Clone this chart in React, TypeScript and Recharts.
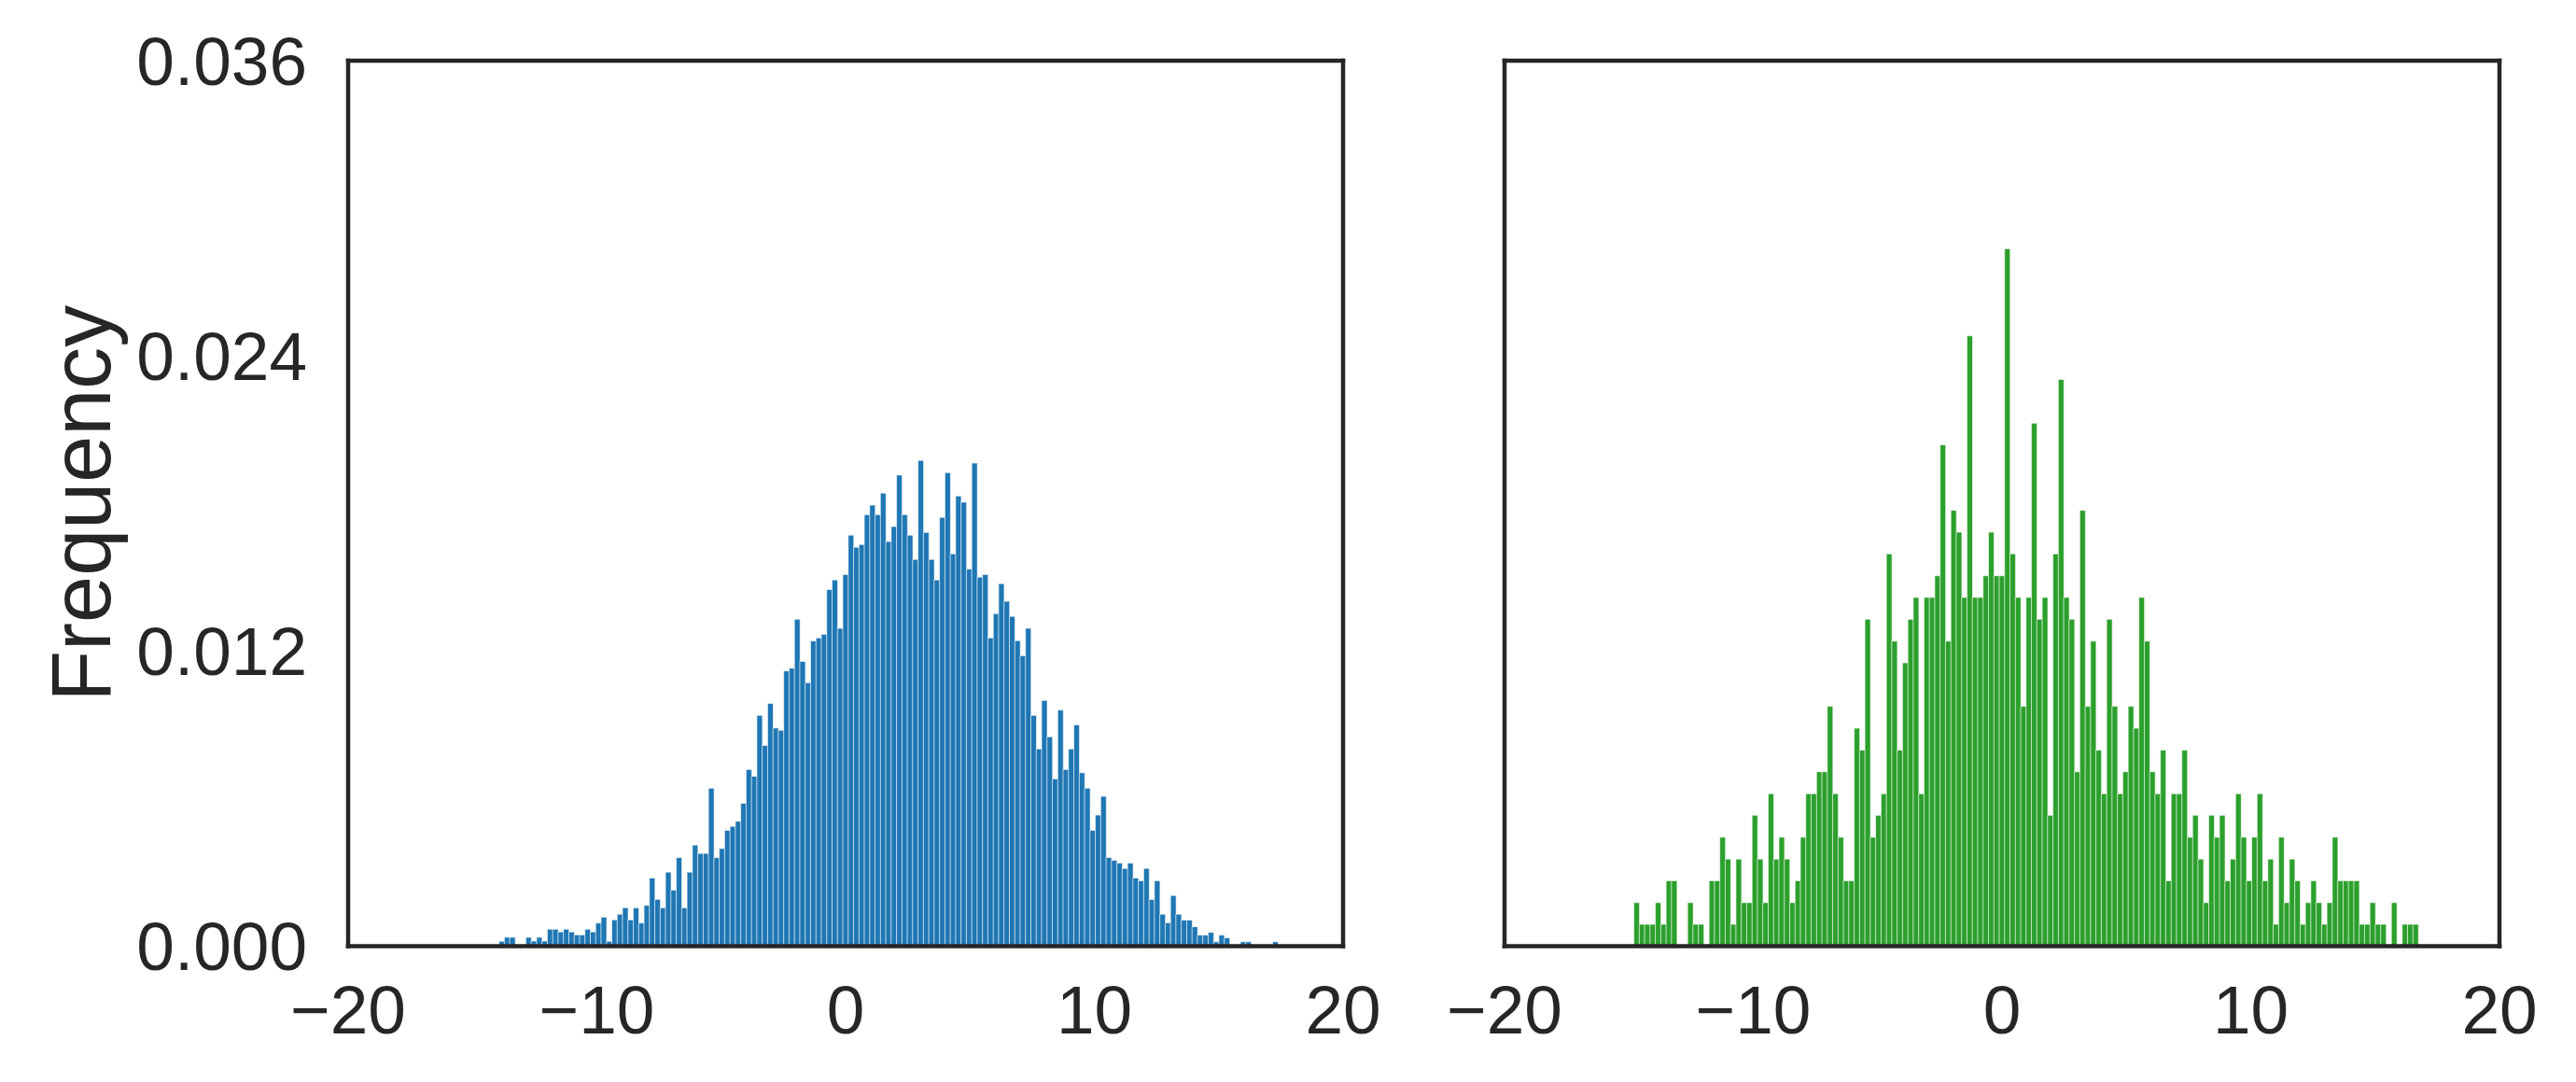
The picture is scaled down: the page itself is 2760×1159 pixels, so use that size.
import React from 'react';
import { BarChart, Bar, XAxis, YAxis, Label } from 'recharts';

const X_TICKS = [-20, -10, 0, 10, 20];
const Y_TICKS = [0, 0.012, 0.024, 0.036];
const BIN_WIDTH = 0.216;
const BLUE_BIN_START = -13.936;
const GREEN_BIN_START = -14.8;

const BLUE_FREQ = [
  0.0002, 0.00036, 0.00036, 0, 0, 0.00036, 0.00021, 0.00036, 0.00021, 0.00069,
  0.00069, 0.00058, 0.00069, 0.00058, 0.00046, 0.00046, 0.00069, 0.00058, 0.00094, 0.00118,
  0.0002, 0.00107, 0.0013, 0.00156, 0.00107, 0.00156, 0.00094, 0.00166, 0.00277, 0.0019,
  0.00156, 0.00301, 0.00228, 0.0036, 0.00156, 0.00301, 0.00411, 0.00377, 0.00377, 0.00642,
  0.0036, 0.00397, 0.00471, 0.00487, 0.00508, 0.00581, 0.00718, 0.00691, 0.00938, 0.00816,
  0.00987, 0.00887, 0.00878, 0.01119, 0.0113, 0.01329, 0.01158, 0.01071, 0.01241, 0.01253,
  0.01268, 0.0145, 0.01489, 0.01292, 0.01511, 0.01671, 0.01622, 0.01633, 0.01754, 0.01793,
  0.01754, 0.01842, 0.01645, 0.01706, 0.01915, 0.01754, 0.01671, 0.01572, 0.01975, 0.01682,
  0.01572, 0.01489, 0.01743, 0.01925, 0.01595, 0.0183, 0.01805, 0.01533, 0.01964, 0.015,
  0.01511, 0.01253, 0.01352, 0.01474, 0.01402, 0.01341, 0.01242, 0.01181, 0.01292, 0.00938,
  0.00802, 0.00999, 0.00851, 0.0068, 0.0096, 0.00718, 0.00802, 0.009, 0.00705, 0.00642,
  0.00471, 0.00533, 0.00609, 0.0036, 0.00349, 0.00338, 0.00316, 0.00338, 0.00277, 0.00266,
  0.00316, 0.0019, 0.00266, 0.0013, 0.00095, 0.00206, 0.0013, 0.00106, 0.00106, 0.00079,
  0.00045, 0.00045, 0.00056, 0.00018, 0.00045, 0.00034, 0, 0, 0.00018, 0.00018,
  0, 0, 0, 0, 0.00018,
];

const GREEN_FREQ = [
  0.00177, 0.00089, 0.00089, 0.00089, 0.00177, 0.00089, 0.00266, 0.00266, 0, 0,
  0.00177, 0.00089, 0.00089, 0, 0.00266, 0.00266, 0.00443, 0.00354, 0.00089, 0.00354,
  0.00177, 0.00177, 0.00532, 0.00354, 0.00177, 0.0062, 0.00354, 0.00443, 0.00354, 0.00177,
  0.00266, 0.00443, 0.0062, 0.0062, 0.00709, 0.00709, 0.00975, 0.0062, 0.00443, 0.00266,
  0.00266, 0.00886, 0.00797, 0.01329, 0.00443, 0.00532, 0.0062, 0.01595, 0.0124, 0.00797,
  0.01152, 0.01329, 0.01418, 0.0062, 0.01418, 0.01418, 0.01506,
  0.02038, 0.0124, 0.01772, 0.01683, 0.01418, 0.02481, 0.01418, 0.01418, 0.01506, 0.01683,
  0.01506, 0.01506, 0.02835, 0.01595, 0.01418, 0.00975, 0.01418, 0.02126, 0.01329, 0.01418,
  0.00532, 0.01595, 0.02304, 0.01418, 0.01329, 0.00709, 0.01772, 0.00975, 0.0124, 0.00797,
  0.0062, 0.01329, 0.00975, 0.0062, 0.00709, 0.00975, 0.00886, 0.01418, 0.0124, 0.00709,
  0.0062, 0.00797, 0.00266, 0.0062, 0.0062, 0.00797, 0.00443, 0.00532, 0.00354, 0.00177,
  0.00532, 0.00443, 0.00532, 0.00266, 0.00354, 0.0062, 0.00443, 0.00266, 0.00443, 0.0062,
  0.00266, 0.00354, 0.00089, 0.00443, 0.00177, 0.00354, 0.00266, 0.00089, 0.00177, 0.00266,
  0.00177, 0.00089, 0.00177, 0.00443, 0.00266, 0.00266, 0.00266, 0.00266, 0.00089, 0.00089,
  0.00177, 0.00089, 0.00089, 0, 0.00177, 0, 0.00089, 0.00089, 0.00089,
];

const toRows = (start: number, freqs: number[]) =>
  freqs.map((f, i) => ({ x: +(start + (i + 0.5) * BIN_WIDTH).toFixed(4), f }));

const blueRows = toRows(BLUE_BIN_START, BLUE_FREQ);
const greenRows = toRows(GREEN_BIN_START, GREEN_FREQ);

const FONT = '"Liberation Sans", Arial, sans-serif';
const INK = '#262626';
const tickStyle = { fontSize: 73, fill: INK, fontFamily: FONT };
const frameLine = { stroke: INK, strokeWidth: 4.5, strokeLinecap: 'square' as const };
const fmtX = (v: number) => (v < 0 ? `\u2212${Math.abs(v)}` : `${v}`);
const fmtY = (v: number) => v.toFixed(3);

function Panel({
  rows,
  color,
  width,
  leftWidth,
  rightWidth,
  showY,
}: {
  rows: { x: number; f: number }[];
  color: string;
  width: number;
  leftWidth: number;
  rightWidth: number;
  showY: boolean;
}) {
  return (
    <BarChart
      width={width}
      height={1159}
      data={rows}
      margin={{ top: 0, right: 0, bottom: 0, left: 0 }}
      barCategoryGap={0}
      barGap={0}
    >
      <XAxis
        dataKey="x"
        type="number"
        domain={[-20, 20]}
        ticks={X_TICKS}
        interval={0}
        tickFormatter={fmtX}
        height={145.5}
        tickSize={0}
        tickMargin={42}
        tickLine={false}
        axisLine={frameLine}
        tick={tickStyle}
      />
      <XAxis
        xAxisId="top"
        orientation="top"
        type="number"
        domain={[-20, 20]}
        height={65}
        tick={false}
        tickLine={false}
        axisLine={frameLine}
      />
      <YAxis
        type="number"
        domain={[0, 0.036]}
        ticks={Y_TICKS}
        interval={0}
        tickFormatter={fmtY}
        width={leftWidth}
        tickSize={0}
        tickMargin={44}
        tickLine={false}
        axisLine={frameLine}
        tick={showY ? tickStyle : false}
      >
        {showY ? (
          <Label
            value="Frequency"
            angle={-90}
            position="insideLeft"
            offset={86}
            style={{ textAnchor: 'middle', fontSize: 90, fill: INK, fontFamily: FONT }}
          />
        ) : null}
      </YAxis>
      <YAxis
        yAxisId="right"
        orientation="right"
        type="number"
        domain={[0, 0.036]}
        width={rightWidth}
        tick={false}
        tickLine={false}
        axisLine={frameLine}
      />
      <Bar dataKey="f" fill={color} stroke="#ffffff" strokeWidth={0.6} isAnimationActive={false} />
    </BarChart>
  );
}

export default function App() {
  return (
    <div
      style={{
        position: 'absolute',
        left: 0,
        top: 0,
        width: 2760,
        height: 1159,
        background: '#ffffff',
        overflow: 'hidden',
      }}
    >
      <div style={{ position: 'absolute', left: 0, top: 0 }}>
        <Panel rows={blueRows} color="#1f77b4" width={1500} leftWidth={373} rightWidth={61} showY />
      </div>
      <div style={{ position: 'absolute', left: 1480, top: 0 }}>
        <Panel rows={greenRows} color="#2ca02c" width={1280} leftWidth={132} rightWidth={82} showY={false} />
      </div>
    </div>
  );
}
